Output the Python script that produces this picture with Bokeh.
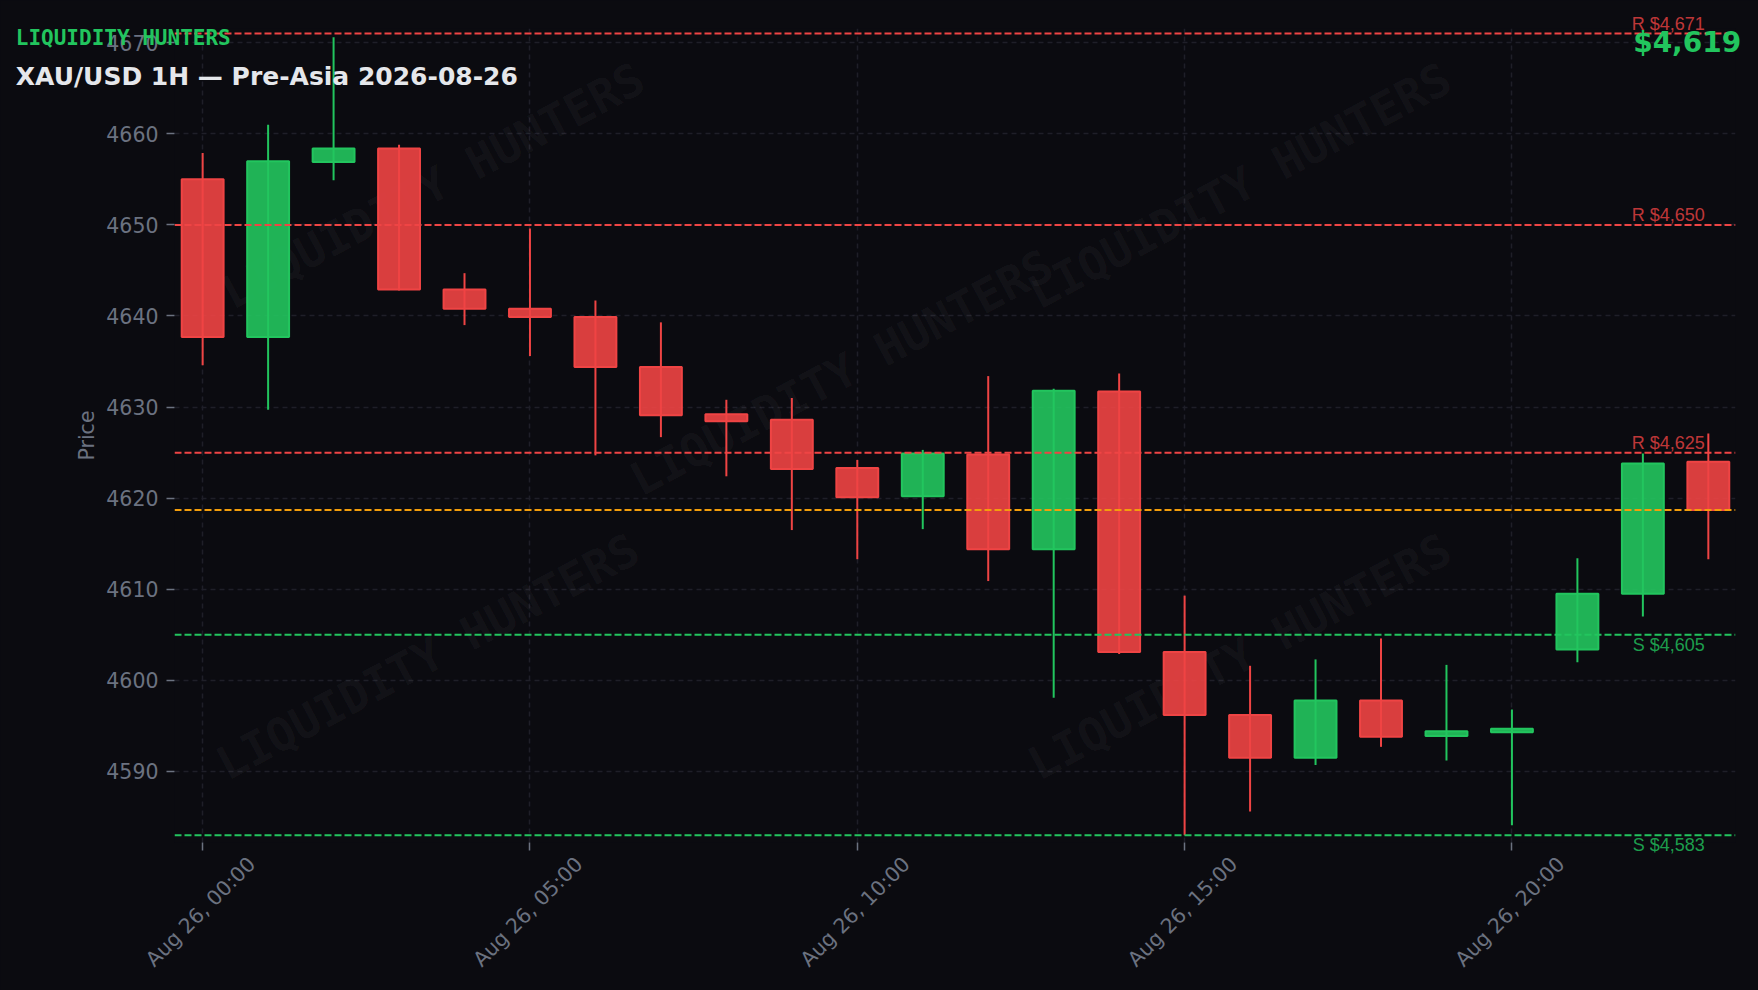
import math
import pandas as pd
from bokeh.plotting import figure
from bokeh.models import (ColumnDataSource, FixedTicker, LinearAxis,
                          Label, Span, Range1d)
from bokeh.embed import file_html
from bokeh.resources import INLINE

# ---------------- data ----------------
times = pd.date_range("2026-08-26 00:00", periods=24, freq="h")
opens = [4655.0, 4637.7, 4656.9, 4658.4, 4642.9, 4640.8, 4639.9, 4634.4,
         4629.2, 4628.6, 4623.3, 4620.2, 4624.8, 4614.4, 4631.7, 4603.1,
         4596.2, 4591.5, 4597.8, 4593.9, 4594.3, 4603.4, 4609.5, 4624.0]
highs = [4657.9, 4661.0, 4670.6, 4658.8, 4644.7, 4649.6, 4641.7, 4639.3,
         4630.8, 4631.0, 4624.2, 4625.3, 4633.4, 4632.0, 4633.7, 4609.3,
         4601.6, 4602.3, 4604.6, 4601.7, 4596.8, 4613.4, 4624.9, 4627.1]
lows = [4634.6, 4629.7, 4654.9, 4642.8, 4639.0, 4635.6, 4624.7, 4626.7,
        4622.4, 4616.5, 4613.3, 4616.6, 4610.9, 4598.1, 4602.9, 4583.0,
        4585.6, 4590.7, 4592.7, 4591.2, 4584.1, 4602.0, 4607.0, 4613.3]
closes = [4637.7, 4657.0, 4658.4, 4642.9, 4640.8, 4639.9, 4634.4, 4629.1,
          4628.45, 4623.2, 4620.1, 4624.9, 4614.4, 4631.8, 4603.1, 4596.2,
          4591.5, 4597.8, 4593.8, 4594.4, 4594.7, 4609.5, 4623.8, 4618.7]

resistance = [4671, 4650, 4625]
support = [4605, 4583]
current_price = 4618.7

y_ticks = [4590, 4600, 4610, 4620, 4630, 4640, 4650, 4660, 4670]
x_tick_times = pd.to_datetime(["2026-08-26 00:00", "2026-08-26 05:00",
                               "2026-08-26 10:00", "2026-08-26 15:00",
                               "2026-08-26 20:00"])
x_tick_labels = ["Aug 26, 00:00", "Aug 26, 05:00", "Aug 26, 10:00",
                 "Aug 26, 15:00", "Aug 26, 20:00"]

title_brand = "LIQUIDITY HUNTERS"
title_main = "XAU/USD 1H — Pre-Asia 2026-08-26"

# ---------------- style / layout ----------------
BG = "#0b0b10"
GREEN = "#22c55e"
RED = "#ef4444"
ORANGE = "#f59e0b"
GRID = "#1f1f28"
TICK = "#6b7280"

W, H = 1758, 990
B_LEFT, B_RIGHT, B_TOP, B_BOTTOM = 174, 23, 28, 148

HOUR_MS = 3600 * 1000
def ms(ts):
    return int(pd.Timestamp(ts).value // 10**6)

t0 = ms(times[0])
x0 = t0 - 0.43 * HOUR_MS
x1 = t0 + 23.415 * HOUR_MS
y0, y1 = 4582.2, 4671.56

p = figure(width=W, height=H, x_axis_type="datetime",
           output_backend="svg", toolbar_location=None,
           x_range=Range1d(x0, x1), y_range=Range1d(y0, y1),
           min_border_left=B_LEFT, min_border_right=B_RIGHT,
           min_border_top=B_TOP, min_border_bottom=B_BOTTOM)
p.background_fill_color = BG
p.border_fill_color = BG
p.outline_line_color = None

tick_ms = [ms(t) for t in x_tick_times]

# grid
p.xgrid.ticker = FixedTicker(ticks=tick_ms)
for g in (p.xgrid, p.ygrid):
    g.grid_line_color = GRID
    g.grid_line_dash = "5 4"
    g.grid_line_width = 1.5

# y axis
p.yaxis.ticker = FixedTicker(ticks=y_ticks)
p.yaxis.major_label_standoff = 8
p.yaxis.axis_label = "Price"
p.yaxis.axis_label_text_color = TICK
p.yaxis.axis_label_text_font = "DejaVu Sans"
p.yaxis.axis_label_text_font_size = "20.5px"
p.yaxis.axis_label_text_font_style = "normal"
p.yaxis.axis_label_standoff = 4

# x axis: tick marks (first) + rotated labels centred on ticks (second)
p.xaxis.ticker = FixedTicker(ticks=tick_ms)
p.xaxis.major_label_overrides = {t: "" for t in tick_ms}
p.xaxis.major_label_text_font_size = "1px"
p.xaxis.major_label_standoff = 0

shift = int(0.75 * HOUR_MS)
label_ticks = [t + shift for t in tick_ms]
xlab = LinearAxis(ticker=FixedTicker(ticks=label_ticks),
                  major_label_overrides=dict(zip(label_ticks, x_tick_labels)),
                  major_label_orientation=math.pi / 4,
                  major_label_standoff=4,
                  major_tick_line_color=None, minor_tick_line_color=None,
                  axis_line_color=None)
p.add_layout(xlab, "below")

for ax in (p.xaxis[0], p.yaxis[0], xlab):
    ax.axis_line_color = None
    ax.minor_tick_line_color = None
    ax.major_label_text_color = TICK
    ax.major_label_text_font = "DejaVu Sans"
for ax in (p.xaxis[0], p.yaxis[0]):
    ax.major_tick_line_color = TICK
    ax.major_tick_line_width = 1.5
    ax.major_tick_out = 8
    ax.major_tick_in = 0
p.yaxis.major_label_text_font_size = "20.5px"
xlab.major_label_text_font_size = "20.5px"

# watermarks
wm_pos = [(3.52, 4654.3), (9.76, 4633.8), (15.84, 4654.3),
          (3.44, 4602.6), (15.84, 4602.6)]
for hx, py in wm_pos:
    p.add_layout(Label(x=t0 + hx * HOUR_MS, y=py, text=title_brand,
                       angle=math.radians(28), text_align="center",
                       text_baseline="middle", text_font="DejaVu Sans Mono",
                       text_font_style="bold", text_font_size="46px",
                       text_color="#ffffff", text_alpha=0.045, level="underlay"))

# candles
inc = [c >= o for o, c in zip(opens, closes)]
src = ColumnDataSource(dict(
    t=times, high=highs, low=lows,
    top=[max(o, c) for o, c in zip(opens, closes)],
    bottom=[min(o, c) for o, c in zip(opens, closes)],
    color=[GREEN if i else RED for i in inc]))
p.segment(x0="t", y0="low", x1="t", y1="high", source=src,
          line_color="color", line_width=2)
p.vbar(x="t", width=0.64 * HOUR_MS, top="top", bottom="bottom", source=src,
       fill_color="color", fill_alpha=0.9, line_color="color", line_width=2)

# level lines
for lv in resistance:
    p.add_layout(Span(location=lv, dimension="width", line_color=RED,
                      line_dash="7 3", line_width=2))
for lv in support:
    p.add_layout(Span(location=lv, dimension="width", line_color=GREEN,
                      line_dash="7 3", line_width=2))
p.add_layout(Span(location=current_price, dimension="width", line_color=ORANGE,
                  line_dash="7 3", line_width=2))

# ---------------- transparent overlay (separate root) for unclipped texts ----
kx = (W - B_LEFT - B_RIGHT) / (x1 - x0)
ky = (H - B_TOP - B_BOTTOM) / (y1 - y0)
ov = figure(width=W, height=H, output_backend="svg", toolbar_location=None,
            x_range=Range1d(x0 - B_LEFT / kx, x1 + B_RIGHT / kx),
            y_range=Range1d(y0 - B_BOTTOM / ky, y1 + B_TOP / ky),
            x_axis_location=None, y_axis_location=None,
            min_border=0, margin=(-H, 0, 0, 0))
ov.background_fill_color = None
ov.border_fill_color = None
ov.background_fill_alpha = 0
ov.border_fill_alpha = 0
ov.outline_line_color = None
ov.grid.visible = False

last_t = ms(times[-1])
for lv in resistance:
    ov.add_layout(Label(x=last_t, y=lv, text=f"R ${lv:,}", text_align="right",
                        text_baseline="alphabetic", x_offset=-3.5, y_offset=9.6,
                        text_font="Liberation Sans", text_font_size="18px",
                        text_color=RED, text_alpha=0.8))
for lv in support:
    ov.add_layout(Label(x=last_t, y=lv, text=f"S ${lv:,}", text_align="right",
                        text_baseline="alphabetic", x_offset=-3.5, y_offset=-9.9,
                        text_font="Liberation Sans", text_font_size="18px",
                        text_color=GREEN, text_alpha=0.8))

ov.add_layout(Label(x=15.3, y=H - 37.6, x_units="screen", y_units="screen",
                    text=title_brand, text_font="DejaVu Sans Mono",
                    text_font_style="bold", text_font_size="21px",
                    text_color=GREEN, text_baseline="alphabetic"))
ov.add_layout(Label(x=15.3, y=H - 76, x_units="screen", y_units="screen",
                    text=title_main, text_font="DejaVu Sans",
                    text_font_style="bold", text_font_size="25px",
                    text_color="#e5e7eb", text_baseline="alphabetic"))
ov.add_layout(Label(x=1740.7, y=H - 41.7, x_units="screen", y_units="screen",
                    text=f"${current_price:,.0f}", text_font="DejaVu Sans",
                    text_font_style="bold", text_font_size="28px",
                    text_color=GREEN, text_align="right",
                    text_baseline="alphabetic"))

html = file_html([p, ov], INLINE)
html = html.replace("</head>",
                    "<style>html,body{background:#0b0b10;margin:0;overflow:hidden;}</style></head>", 1)
open("out.html", "w").write(html)
